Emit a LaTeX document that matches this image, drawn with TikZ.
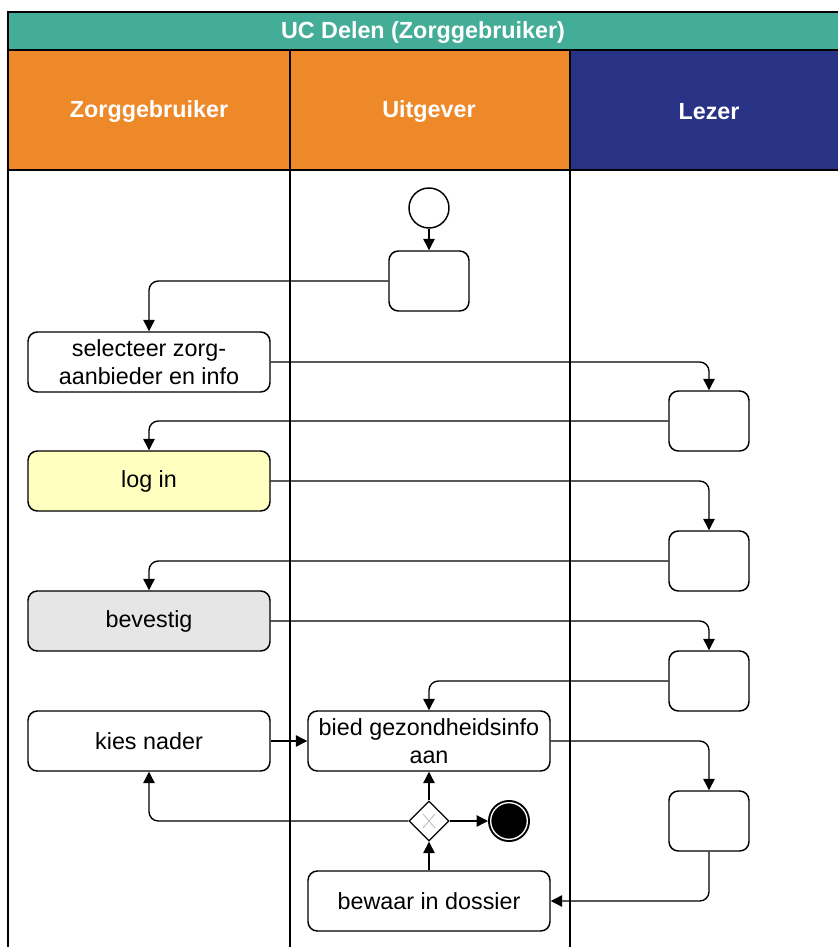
\documentclass[tikz,border=0pt]{standalone}
\usepackage{fontspec}
\setmainfont{Liberation Sans}
\usetikzlibrary{calc}
\usetikzlibrary{arrows.meta}
\usetikzlibrary{shapes.geometric}
\definecolor{titel}{RGB}{68,173,151}
\definecolor{oranje}{RGB}{238,137,42}
\definecolor{blauw}{RGB}{40,51,134}
\definecolor{geel}{RGB}{255,255,192}
\definecolor{grijs}{RGB}{230,230,230}

\begin{document}
\begin{tikzpicture}[x=0.75pt,y=-0.75pt,
	font=\fontsize{17.5}{20.5}\selectfont,
	kop/.style={text=white, font=\fontsize{17.5}{20.5}\selectfont\bfseries},
	taak/.style={draw, fill=white, line width=1.1pt, rounded corners=7pt, minimum width=181.5pt, minimum height=45pt, align=center, inner sep=1pt},
	leeg/.style={draw, fill=white, line width=1.1pt, rounded corners=7pt, minimum width=60pt, minimum height=45pt},
	pijl/.style={line width=1pt, rounded corners=7pt, -{Triangle[length=8.5pt,width=8.5pt]}}]

	\useasboundingbox (0,0) rectangle (838,947);

	% banen
	\fill[titel] (8,12) rectangle (845,50);
	\fill[oranje] (8,50) rectangle (570,170);
	\fill[blauw] (570,50) rectangle (845,170);
	\draw[line width=1pt] (845,12) -- (8,12) -- (8,950);
	\draw[line width=1pt] (8,50) -- (845,50);
	\draw[line width=1pt] (8,170) -- (845,170);
	\draw[line width=0.8pt] (290,50) -- (290,950);
	\draw[line width=0.8pt] (570,50) -- (570,950);
	\node[kop] (uc) at (423,33) {UC Delen (Zorggebruiker)};
	\node[kop] (zorg) at (149,112) {Zorggebruiker};
	\node[kop] (uitg) at (429,112) {Uitgever};
	\node[kop] (lezer) at (709,112) {Lezer};

	% stappen
	\node[circle, draw, line width=1.1pt, minimum size=30pt, inner sep=0pt] (start) at (429,208) {};
	\node[leeg] (u1) at (429,281) {};
	\node[taak] (sel) at (149,362) {selecteer zorg-\\aanbieder en info};
	\node[leeg] (l1) at (709,421) {};
	\node[taak, fill=geel] (login) at (149,481) {log in};
	\node[leeg] (l2) at (709,561) {};
	\node[taak, fill=grijs] (bev) at (149,621) {bevestig};
	\node[leeg] (l3) at (709,681) {};
	\node[taak] (kies) at (149,741) {kies nader};
	\node[taak] (bied) at (429,741) {bied gezondheidsinfo\\aan};
	\node[leeg] (l4) at (709,821) {};
	\node[diamond, draw, fill=white, line width=1pt, minimum width=30pt, minimum height=30pt, inner sep=0pt] (gw) at (429,821) {};
	\draw[gray!55, line width=0.6pt] ($(gw)+(-6,-7)$) -- ($(gw)+(6,7)$);
	\draw[gray!55, line width=0.6pt] ($(gw)+(-6,7)$) -- ($(gw)+(6,-7)$);
	\node[circle, draw, fill=black, line width=1.5pt, double=white, double distance=1pt, minimum size=27.5pt, inner sep=0pt, outer sep=2pt] (eind) at (509,821) {};
	\node[taak] (bew) at (429,901) {bewaar in dossier};

	% pijlen
	\draw[pijl] (start) -- (u1);
	\draw[pijl] (u1.west) -| (sel.north);
	\draw[pijl] (sel.east) -| (l1.north);
	\draw[pijl] (l1.west) -| (login.north);
	\draw[pijl] (login.east) -| (l2.north);
	\draw[pijl] (l2.west) -| (bev.north);
	\draw[pijl] (bev.east) -| (l3.north);
	\draw[pijl] (l3.west) -| (bied.north);
	\draw[pijl] (kies) -- (bied);
	\draw[pijl] (bied.east) -| (l4.north);
	\draw[pijl] (l4.south) |- (bew.east);
	\draw[pijl] (bew) -- (gw);
	\draw[pijl] (gw) -- (bied);
	\draw[pijl] (gw) -- (eind);
	\draw[pijl] (gw.west) -| (kies.south);

\end{tikzpicture}
\end{document}
